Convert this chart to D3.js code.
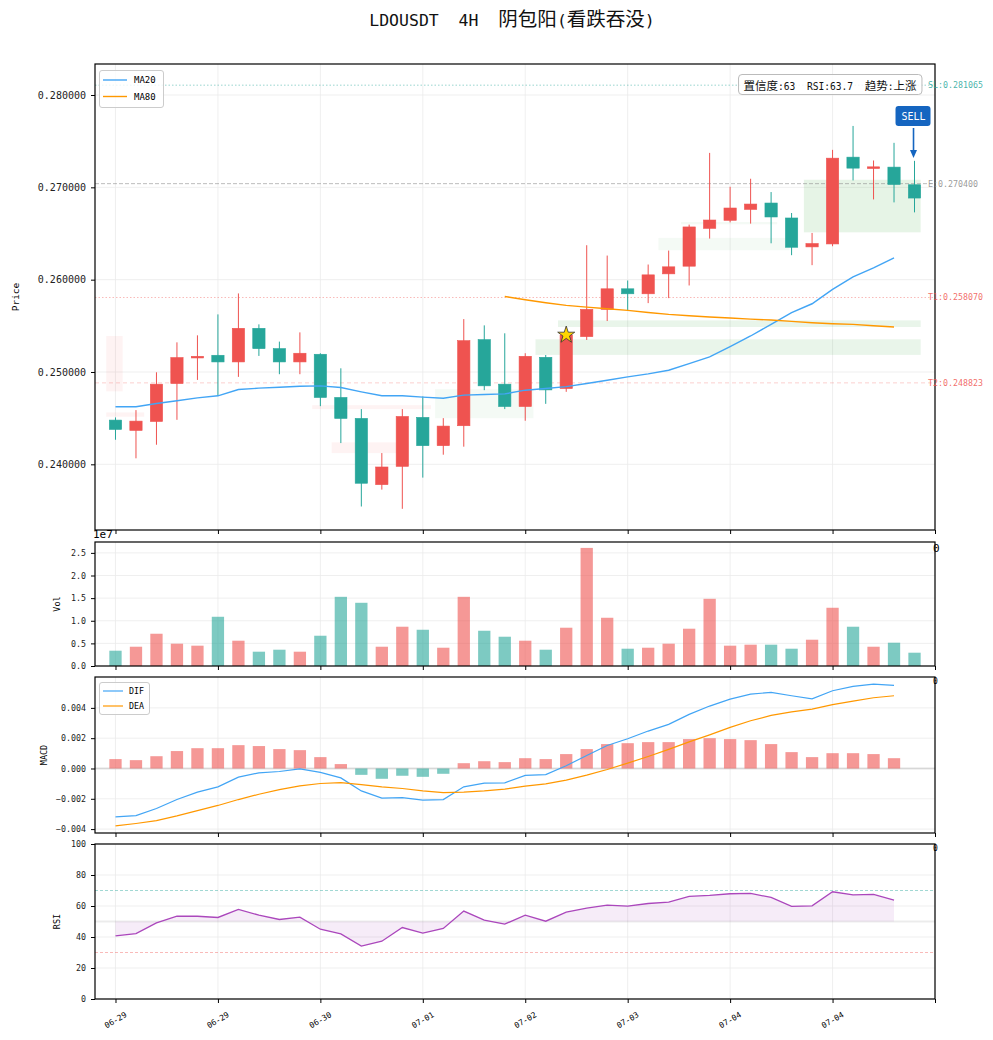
<!DOCTYPE html>
<html>
<head>
<meta charset="utf-8">
<script src="https://cdnjs.cloudflare.com/ajax/libs/d3/7.8.5/d3.min.js"></script>
<style>
  body { margin: 0; background: #fff; }
  text { font-family: "DejaVu Sans Mono", "Noto Sans CJK SC", monospace; white-space: pre; }
</style>
</head>
<body>
<div id="chart"></div>
<script>
// ---- data ----
var title = "LDOUSDT  4H  阴包阳(看跌吞没)";
var xTickIdx = [0, 5, 10, 15, 20, 25, 30, 35];
var xTickLabels = ["06-29", "06-29", "06-30", "07-01", "07-02", "07-03", "07-04", "07-04"];

var opens  = [0.24479, 0.24367, 0.24464, 0.24875, 0.25152, 0.25181, 0.25109, 0.25473, 0.25253, 0.25109,
              0.25192, 0.24724, 0.24497, 0.23780, 0.23978, 0.24508, 0.24202, 0.24418, 0.25350, 0.24868,
              0.24626, 0.25159, 0.24821, 0.25383, 0.25678, 0.25901, 0.25847, 0.26063, 0.26146, 0.26556,
              0.26643, 0.26761, 0.26830, 0.26668, 0.26355, 0.26387, 0.27327, 0.27204, 0.27219, 0.27028];
var highs  = [0.24508, 0.24587, 0.24997, 0.25321, 0.25397, 0.25624, 0.25851, 0.25516, 0.25329, 0.25429,
              0.25203, 0.25040, 0.24598, 0.24122, 0.24598, 0.24735, 0.24500, 0.25573, 0.25505, 0.25419,
              0.25203, 0.25184, 0.25480, 0.26373, 0.26261, 0.25991, 0.26164, 0.26315, 0.26596, 0.27373,
              0.27006, 0.27093, 0.26949, 0.26722, 0.26506, 0.27406, 0.27665, 0.27291, 0.27482, 0.27287];
var lows   = [0.24266, 0.24065, 0.24212, 0.24482, 0.24914, 0.24742, 0.24947, 0.25174, 0.24976, 0.24976,
              0.24630, 0.24230, 0.23543, 0.23726, 0.23518, 0.23856, 0.24104, 0.24191, 0.24803, 0.24598,
              0.24472, 0.24655, 0.24785, 0.25347, 0.25552, 0.25667, 0.25746, 0.25800, 0.25937, 0.26445,
              0.26621, 0.26607, 0.26394, 0.26265, 0.26157, 0.26362, 0.27075, 0.26869, 0.26837, 0.26729];
var closes = [0.24378, 0.24468, 0.24868, 0.25156, 0.25170, 0.25109, 0.25473, 0.25253, 0.25109, 0.25203,
              0.24724, 0.24497, 0.23795, 0.23971, 0.24518, 0.24202, 0.24414, 0.25339, 0.24850, 0.24626,
              0.25170, 0.24806, 0.25401, 0.25678, 0.25901, 0.25847, 0.26052, 0.26139, 0.26571, 0.26646,
              0.26776, 0.26819, 0.26679, 0.26351, 0.26391, 0.27316, 0.27208, 0.27222, 0.27031, 0.26884];
var volumes = [3.38e6, 4.26e6, 7.13e6, 4.93e6, 4.49e6, 10.88e6, 5.59e6, 3.16e6, 3.60e6, 3.16e6,
               6.69e6, 15.29e6, 13.97e6, 4.26e6, 8.68e6, 8.01e6, 4.04e6, 15.29e6, 7.79e6, 6.47e6,
               5.59e6, 3.60e6, 8.46e6, 26.10e6, 10.66e6, 3.82e6, 4.04e6, 4.93e6, 8.24e6, 14.85e6,
               4.49e6, 4.71e6, 4.71e6, 3.82e6, 5.81e6, 12.87e6, 8.68e6, 4.26e6, 5.15e6, 2.94e6];
var ma20 = [0.24623, 0.24623, 0.24659, 0.24688, 0.24720, 0.24742, 0.24810, 0.24825, 0.24835, 0.24846,
            0.24850, 0.24832, 0.24785, 0.24742, 0.24742, 0.24728, 0.24716, 0.24749, 0.24756, 0.24763,
            0.24803, 0.24821, 0.24842, 0.24875, 0.24911, 0.24947, 0.24979, 0.25019, 0.25091, 0.25163,
            0.25275, 0.25390, 0.25516, 0.25642, 0.25739, 0.25894, 0.26031, 0.26128, 0.26236];
var ma80 = [null, null, null, null, null, null, null, null, null, null,
            null, null, null, null, null, null, null, null, null, 0.25818,
            0.25782, 0.25750, 0.25721, 0.25703, 0.25685, 0.25667, 0.25645, 0.25624, 0.25609, 0.25595,
            0.25584, 0.25573, 0.25563, 0.25548, 0.25534, 0.25523, 0.25516, 0.25501, 0.25487];
var dif = [-3.19, -3.11, -2.64, -2.05, -1.56, -1.21, -0.57, -0.29, -0.20, -0.02,
           -0.26, -0.62, -1.48, -1.96, -1.92, -2.09, -2.05, -1.21, -0.97, -0.95,
           -0.46, -0.40, 0.18, 0.86, 1.52, 1.96, 2.47, 2.91, 3.57, 4.12,
           4.58, 4.91, 5.02, 4.80, 4.60, 5.13, 5.42, 5.57, 5.48];
var dea = [-3.79, -3.63, -3.44, -3.13, -2.78, -2.44, -2.05, -1.70, -1.39, -1.15,
           -0.99, -0.93, -1.06, -1.21, -1.32, -1.48, -1.59, -1.56, -1.48, -1.36,
           -1.17, -1.01, -0.77, -0.44, -0.07, 0.35, 0.79, 1.26, 1.76, 2.22,
           2.71, 3.15, 3.50, 3.74, 3.92, 4.21, 4.45, 4.67, 4.80];
var hist = [0.62, 0.55, 0.81, 1.15, 1.34, 1.34, 1.54, 1.48, 1.28, 1.21,
            0.75, 0.29, -0.42, -0.68, -0.48, -0.55, -0.35, 0.35, 0.48, 0.42,
            0.68, 0.62, 0.95, 1.28, 1.61, 1.67, 1.74, 1.74, 1.94, 2.00,
            1.94, 1.87, 1.61, 1.08, 0.75, 1.01, 1.01, 0.95, 0.68];   // x 1e-3
var rsi = [40.7, 42.2, 49.1, 53.4, 53.4, 52.6, 57.8, 54.1, 51.3, 52.8,
           45.0, 42.0, 34.1, 37.3, 46.1, 42.5, 45.5, 56.7, 50.9, 48.3,
           54.1, 50.2, 56.0, 58.6, 60.6, 59.9, 61.6, 62.5, 66.2, 66.8,
           67.9, 68.1, 65.5, 59.7, 60.1, 69.2, 67.2, 67.5, 63.8];

// trade levels
var levelNames  = ["SL", "E", "T1", "T2"];
var levelValues = [0.281065, 0.270400, 0.258070, 0.248823];

// shaded zones (index from/to, price low/high, kind)
var zoneFrom = [-0.45, -0.45, 9.6, 10.55, 15.6, 20.5, 21.6, 26.5, 27.6, 33.6];
var zoneTo   = [0.35, 1.4, 15.4, 14.3, 20.4, 39.3, 39.3, 32.9, 32.3, 39.3];
var zoneLo   = [0.2479, 0.24515, 0.24598, 0.24122, 0.24500, 0.25185, 0.25487, 0.26319, 0.26600, 0.26513];
var zoneHi   = [0.2539, 0.24562, 0.24641, 0.24238, 0.24814, 0.25354, 0.25559, 0.26452, 0.26625, 0.27082];
var zoneKind = ["bear", "bear", "bear", "bear", "bull", "bull", "bull", "bull", "bull", "bull"];
var zoneAlpha = [0.07, 0.07, 0.07, 0.07, 0.06, 0.12, 0.12, 0.06, 0.06, 0.14];

var signalIdx = 22;      // star
var sellIdx = 39;
var infoText = "置信度:63  RSI:63.7  趋势:上涨";

// ---- layout ----
var W = 993, H = 1040;
var left = 95, right = 935;
var panels = {
  main: {top: 64, bottom: 530},
  vol:  {top: 542, bottom: 666},
  macd: {top: 677, bottom: 833},
  rsi:  {top: 844, bottom: 999}
};
var UP = "#ef5350", DOWN = "#26a69a";
var GRID = "#ebebeb";
var LATIN = '"DejaVu Sans Mono", monospace';
var CJK = '"Noto Sans CJK SC", sans-serif';

var svg = d3.select("#chart").append("svg")
  .attr("width", W).attr("height", H);

// split a string into CJK / non-CJK runs so half-width latin sits next to full-width CJK
function mixedText(sel, str, latinSize, cjkSize) {
  var runs = str.match(/[\u3000-\u9fff\uff00-\uffef]+|[^\u3000-\u9fff\uff00-\uffef]+/g);
  runs.forEach(function(r) {
    var isCjk = /[\u3000-\u9fff\uff00-\uffef]/.test(r);
    sel.append("tspan").text(r)
      .style("font-family", isCjk ? CJK : LATIN)
      .attr("font-size", isCjk ? cjkSize : latinSize);
  });
  return sel;
}

var x = d3.scaleLinear().domain([-1, 40]).range([left, right]);
var idx = d3.range(opens.length);
var xTicksAll = xTickIdx.concat([40]);

// main y: from lowest low to SL with 5% padding
var pLo = d3.min(lows), pHi = d3.max([d3.max(highs), levelValues[0]]);
var pPad = (pHi - pLo) * 0.05;
var yP = d3.scaleLinear().domain([pLo - pPad, pHi + pPad]).range([panels.main.bottom, panels.main.top]);
var yV = d3.scaleLinear().domain([0, d3.max(volumes) * 1.05]).range([panels.vol.bottom, panels.vol.top]);
var mLo = d3.min(dea.concat(dif, hist)), mHi = d3.max(dea.concat(dif, hist));
var mPad = (mHi - mLo) * 0.05;
var yM = d3.scaleLinear().domain([(mLo - mPad) / 1000, (mHi + mPad) / 1000]).range([panels.macd.bottom, panels.macd.top]);
var yR = d3.scaleLinear().domain([0, 100]).range([panels.rsi.bottom, panels.rsi.top]);

function grid(p, y, ticks) {
  var g = svg.append("g");
  g.selectAll("line.gx").data(xTicksAll).enter().append("line")
    .attr("x1", function(d){ return x(d); }).attr("x2", function(d){ return x(d); })
    .attr("y1", p.top).attr("y2", p.bottom)
    .attr("stroke", GRID).attr("stroke-width", 0.8);
  g.selectAll("line.gy").data(ticks).enter().append("line")
    .attr("x1", left).attr("x2", right)
    .attr("y1", function(d){ return y(d); }).attr("y2", function(d){ return y(d); })
    .attr("stroke", GRID).attr("stroke-width", 0.8);
}

function frame(p, y, ticks, fmt, fontSize) {
  var g = svg.append("g");
  var yAxis = d3.axisLeft(y).tickValues(ticks).tickFormat(fmt).tickSize(4).tickPadding(5);
  var ga = g.append("g").attr("transform", "translate(" + left + ",0)").call(yAxis);
  ga.select(".domain").remove();
  ga.selectAll("text").attr("font-size", fontSize).attr("fill", "#222")
    .style("font-family", LATIN);
  ga.selectAll("line").attr("stroke", "#000");
  var xAxis = d3.axisBottom(x).tickValues(xTicksAll).tickFormat("").tickSize(4);
  var gx = g.append("g").attr("transform", "translate(0," + p.bottom + ")").call(xAxis);
  gx.select(".domain").remove();
  gx.selectAll("line").attr("stroke", "#000");
  g.append("rect").attr("x", left).attr("y", p.top)
    .attr("width", right - left).attr("height", p.bottom - p.top)
    .attr("fill", "none").attr("stroke", "#000").attr("stroke-width", 1.2);
}

// ================= main panel =================
var pm = panels.main;
var priceTicks = [0.24, 0.25, 0.26, 0.27, 0.28];
grid(pm, yP, priceTicks);

var zoneG = svg.append("g");
zoneG.selectAll("rect").data(d3.range(zoneFrom.length)).enter().append("rect")
  .attr("x", function(i){ return x(zoneFrom[i]); })
  .attr("width", function(i){ return x(zoneTo[i]) - x(zoneFrom[i]); })
  .attr("y", function(i){ return yP(zoneHi[i]); })
  .attr("height", function(i){ return yP(zoneLo[i]) - yP(zoneHi[i]); })
  .attr("fill", function(i){ return zoneKind[i] === "bull" ? "#4caf50" : "#ef5350"; })
  .attr("fill-opacity", function(i){ return zoneAlpha[i]; });

// level lines
var levelColor = ["#26a69a", "#888888", "#ef5350", "#ef5350"];
var levelDash = ["1.5,2", "4,2", "1.5,2", "4,3"];
var levelOpacity = [0.6, 0.7, 0.5, 0.35];
svg.append("g").selectAll("line").data(levelValues).enter().append("line")
  .attr("x1", left).attr("x2", right)
  .attr("y1", function(d){ return yP(d); }).attr("y2", function(d){ return yP(d); })
  .attr("stroke", function(d, i){ return levelColor[i]; })
  .attr("stroke-opacity", function(d, i){ return levelOpacity[i]; })
  .attr("stroke-dasharray", function(d, i){ return levelDash[i]; })
  .attr("stroke-width", 0.8);

// candles
var cw = (x(1) - x(0)) * 0.6;
var candles = svg.append("g");
candles.selectAll("line").data(idx).enter().append("line")
  .attr("x1", function(i){ return x(i); }).attr("x2", function(i){ return x(i); })
  .attr("y1", function(i){ return yP(highs[i]); }).attr("y2", function(i){ return yP(lows[i]); })
  .attr("stroke", function(i){ return closes[i] >= opens[i] ? UP : DOWN; })
  .attr("stroke-width", 1);
candles.selectAll("rect").data(idx).enter().append("rect")
  .attr("x", function(i){ return x(i) - cw / 2; })
  .attr("width", cw)
  .attr("y", function(i){ return yP(Math.max(opens[i], closes[i])); })
  .attr("height", function(i){ return Math.max(1, Math.abs(yP(opens[i]) - yP(closes[i]))); })
  .attr("fill", function(i){ return closes[i] >= opens[i] ? UP : DOWN; })
  .attr("stroke", function(i){ return closes[i] >= opens[i] ? UP : DOWN; })
  .attr("stroke-width", 0.6);

// moving averages
var maLine = function(arr) {
  return d3.line().defined(function(d){ return d != null; })
    .x(function(d, i){ return x(i); }).y(function(d){ return yP(d); })(arr);
};
svg.append("path").attr("d", maLine(ma20)).attr("fill", "none").attr("stroke", "#42a5f5").attr("stroke-width", 1.4);
svg.append("path").attr("d", maLine(ma80)).attr("fill", "none").attr("stroke", "#ff9800").attr("stroke-width", 1.4);

// signal star
svg.append("path")
  .attr("d", d3.symbol(d3.symbolStar).size(90)())
  .attr("transform", "translate(" + x(signalIdx) + "," + yP(closes[signalIdx]) + ")")
  .attr("fill", "#ffd600").attr("stroke", "#333").attr("stroke-width", 0.8);

frame(pm, yP, priceTicks, d3.format(".6f"), 10);

// level labels on the right
svg.append("g").selectAll("text").data(levelValues).enter().append("text")
  .attr("x", right - 7).attr("y", function(d){ return yP(d); })
  .attr("dy", "0.35em").attr("font-size", 8.3)
  .attr("fill", function(d, i){ return levelColor[i]; })
  .attr("fill-opacity", 0.85)
  .text(function(d, i){ return levelNames[i] + ":" + d3.format(".6f")(d); });

// legend
var lg = svg.append("g");
lg.append("rect").attr("x", 99.5).attr("y", 70.5).attr("width", 64).attr("height", 37).attr("rx", 2.5)
  .attr("fill", "#fff").attr("fill-opacity", 0.8).attr("stroke", "#cccccc");
[["MA20", "#42a5f5"], ["MA80", "#ff9800"]].forEach(function(e, k) {
  var yy = 80 + k * 16.5;
  lg.append("line").attr("x1", 103).attr("x2", 127).attr("y1", yy).attr("y2", yy)
    .attr("stroke", e[1]).attr("stroke-width", 1.4);
  lg.append("text").attr("x", 134).attr("y", yy).attr("dy", "0.35em").attr("font-size", 9).text(e[0]);
});

// info box
var ib = svg.append("g");
var infoT = ib.append("text").attr("x", 830).attr("y", 84.5).attr("dy", "0.35em")
  .attr("text-anchor", "middle").attr("fill", "#111");
mixedText(infoT, infoText, 9.6, 11.5);
var bb = infoT.node().getBBox();
ib.insert("rect", "text").attr("x", bb.x - 5).attr("y", 74.5).attr("width", bb.width + 10).attr("height", 20)
  .attr("rx", 3.5).attr("fill", "#fff").attr("fill-opacity", 0.85).attr("stroke", "#bbbbbb").attr("stroke-width", 1);

// SELL marker
var sx = x(sellIdx) - 1;
var sg = svg.append("g");
sg.append("rect").attr("x", sx - 18).attr("y", 106).attr("width", 35).attr("height", 20).attr("rx", 3)
  .attr("fill", "#1565c0");
sg.append("text").attr("x", sx).attr("y", 116).attr("dy", "0.35em").attr("text-anchor", "middle")
  .attr("font-size", 10).attr("fill", "#fff").text("SELL");
sg.append("line").attr("x1", sx).attr("x2", sx).attr("y1", 128).attr("y2", 152)
  .attr("stroke", "#1565c0").attr("stroke-width", 1.6);
sg.append("path").attr("d", "M" + (sx - 3.5) + ",150 L" + (sx + 3.5) + ",150 L" + sx + ",158 Z")
  .attr("fill", "#1565c0");

// axis label
svg.append("text").attr("transform", "translate(19," + (pm.top + pm.bottom) / 2 + ") rotate(-90)")
  .attr("text-anchor", "middle").attr("font-size", 9.5).text("Price");

// ================= volume panel =================
var pv = panels.vol;
var volTicks = [0, 0.5e7, 1e7, 1.5e7, 2e7, 2.5e7];
grid(pv, yV, volTicks);
svg.append("g").selectAll("rect").data(idx).enter().append("rect")
  .attr("x", function(i){ return x(i) - cw / 2; }).attr("width", cw)
  .attr("y", function(i){ return yV(volumes[i]); })
  .attr("height", function(i){ return yV(0) - yV(volumes[i]); })
  .attr("fill", function(i){ return closes[i] >= opens[i] ? UP : DOWN; })
  .attr("fill-opacity", 0.6);
frame(pv, yV, volTicks, function(d){ return d3.format(".1f")(d / 1e7); }, 8.3);
svg.append("text").attr("x", 93).attr("y", 538).attr("font-size", 11).text("1e7");
svg.append("text").attr("x", 933).attr("y", 552).attr("font-size", 11).text("0");
svg.append("text").attr("transform", "translate(60," + (pv.top + pv.bottom) / 2 + ") rotate(-90)")
  .attr("text-anchor", "middle").attr("font-size", 8.5).text("Vol");

// ================= MACD panel =================
var pc = panels.macd;
var macdTicks = [-0.004, -0.002, 0, 0.002, 0.004];
grid(pc, yM, macdTicks);
svg.append("line").attr("x1", left).attr("x2", right).attr("y1", yM(0)).attr("y2", yM(0))
  .attr("stroke", "#9e9e9e").attr("stroke-opacity", 0.3).attr("stroke-width", 1.8);
var hIdx = d3.range(hist.length);
svg.append("g").selectAll("rect").data(hIdx).enter().append("rect")
  .attr("x", function(i){ return x(i) - cw / 2; }).attr("width", cw)
  .attr("y", function(i){ return yM(Math.max(0, hist[i] / 1000)); })
  .attr("height", function(i){ return Math.abs(yM(hist[i] / 1000) - yM(0)); })
  .attr("fill", function(i){ return hist[i] >= 0 ? UP : DOWN; })
  .attr("fill-opacity", 0.6);
var mLine = d3.line().x(function(d, i){ return x(i); }).y(function(d){ return yM(d / 1000); });
svg.append("path").attr("d", mLine(dif)).attr("fill", "none").attr("stroke", "#42a5f5").attr("stroke-width", 1.2);
svg.append("path").attr("d", mLine(dea)).attr("fill", "none").attr("stroke", "#ff9800").attr("stroke-width", 1.2);
frame(pc, yM, macdTicks, d3.format(".3f"), 8.3);
var lg2 = svg.append("g");
lg2.append("rect").attr("x", 99.5).attr("y", 682.5).attr("width", 50).attr("height", 32).attr("rx", 2.5)
  .attr("fill", "#fff").attr("fill-opacity", 0.8).attr("stroke", "#cccccc");
[["DIF", "#42a5f5"], ["DEA", "#ff9800"]].forEach(function(e, k) {
  var yy = 691 + k * 15;
  lg2.append("line").attr("x1", 103).attr("x2", 123).attr("y1", yy).attr("y2", yy)
    .attr("stroke", e[1]).attr("stroke-width", 1.2);
  lg2.append("text").attr("x", 129).attr("y", yy).attr("dy", "0.35em").attr("font-size", 8.3).text(e[0]);
});
svg.append("text").attr("x", 933).attr("y", 684).attr("font-size", 8).text("0");
svg.append("text").attr("transform", "translate(47," + (pc.top + pc.bottom) / 2 + ") rotate(-90)")
  .attr("text-anchor", "middle").attr("font-size", 8.5).text("MACD");

// ================= RSI panel =================
var pr = panels.rsi;
var rsiTicks = [0, 20, 40, 60, 80, 100];
grid(pr, yR, rsiTicks);
svg.append("line").attr("x1", left).attr("x2", right).attr("y1", yR(50)).attr("y2", yR(50))
  .attr("stroke", "#9e9e9e").attr("stroke-opacity", 0.2).attr("stroke-width", 1.8);
svg.append("line").attr("x1", left).attr("x2", right).attr("y1", yR(70)).attr("y2", yR(70))
  .attr("stroke", "#26a69a").attr("stroke-opacity", 0.55).attr("stroke-dasharray", "3,2").attr("stroke-width", 0.8);
svg.append("line").attr("x1", left).attr("x2", right).attr("y1", yR(30)).attr("y2", yR(30))
  .attr("stroke", "#ef5350").attr("stroke-opacity", 0.5).attr("stroke-dasharray", "3,2").attr("stroke-width", 0.8);
var rArea = d3.area().x(function(d, i){ return x(i); }).y0(yR(50)).y1(function(d){ return yR(d); });
svg.append("path").attr("d", rArea(rsi)).attr("fill", "#ab47bc").attr("fill-opacity", 0.1);
svg.append("path").attr("d", d3.line().x(function(d, i){ return x(i); }).y(function(d){ return yR(d); })(rsi))
  .attr("fill", "none").attr("stroke", "#ab47bc").attr("stroke-width", 1.3);
frame(pr, yR, rsiTicks, d3.format("d"), 8.3);
svg.append("text").attr("x", 933).attr("y", 851).attr("font-size", 8).text("0");
svg.append("text").attr("transform", "translate(60," + (pr.top + pr.bottom) / 2 + ") rotate(-90)")
  .attr("text-anchor", "middle").attr("font-size", 8.5).text("RSI");

// x labels
svg.append("g").selectAll("text").data(xTickIdx).enter().append("text")
  .attr("transform", function(d){ return "translate(" + x(d) + ",1020) rotate(-30)"; })
  .attr("text-anchor", "middle").attr("dy", "0.35em").attr("font-size", 8)
  .text(function(d, i){ return xTickLabels[i]; });

// title
var tt = svg.append("text").attr("x", 512).attr("y", 20).attr("dy", "0.35em").attr("text-anchor", "middle")
  .attr("fill", "#111");
mixedText(tt, title, 16.5, 19.5);
</script>
</body>
</html>
